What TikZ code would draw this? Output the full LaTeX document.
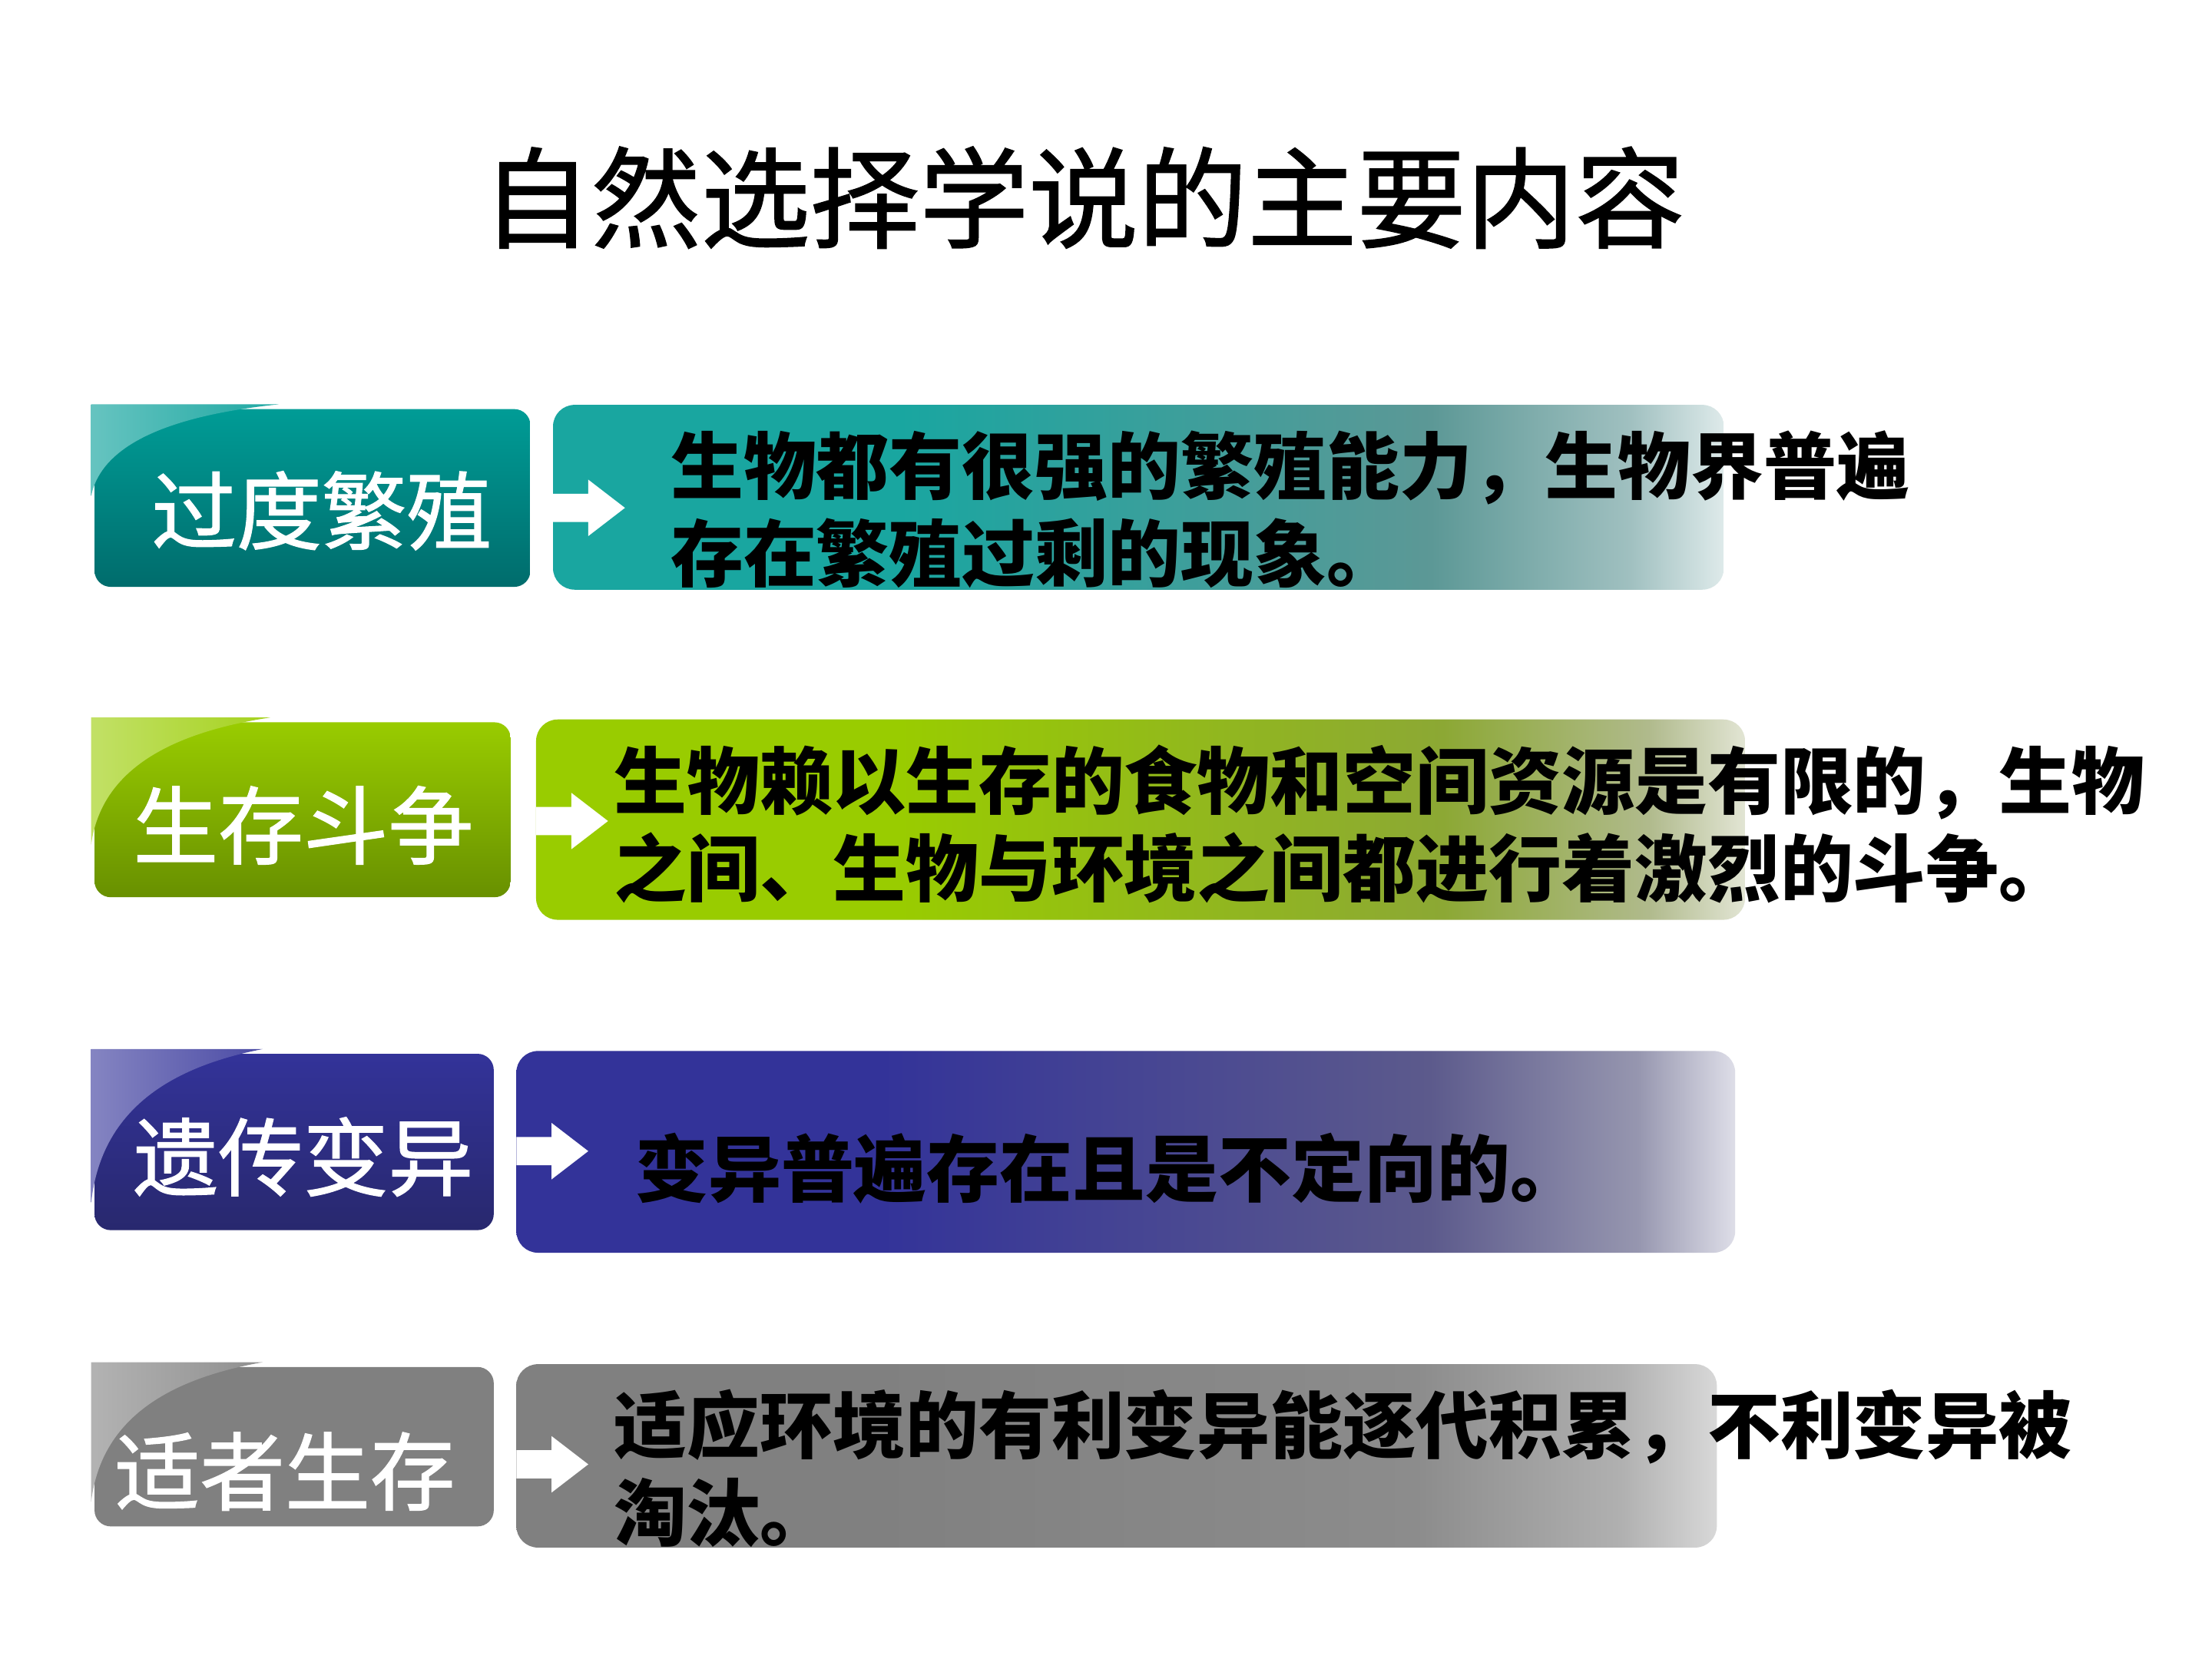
\documentclass[tikz,border=0pt]{standalone}
\usepackage{fontspec}
\newfontfamily\cjk{Noto Sans CJK SC}
\newfontfamily\cjkheavy{Noto Sans CJK SC}[FakeBold=1.2]
\usepackage{tikz}
\usetikzlibrary{positioning, calc}
\definecolor{tealtop}{RGB}{0, 156, 150}
\definecolor{tealbot}{RGB}{0, 108, 108}
\definecolor{greentop}{RGB}{153, 204, 0}
\definecolor{greenbot}{RGB}{104, 144, 0}
\definecolor{bluetop}{RGB}{51, 51, 153}
\definecolor{bluebot}{RGB}{40, 40, 110}
\definecolor{greybox}{RGB}{128, 128, 128}
\colorlet{barbase}{tealtop}
\colorlet{barmid}{tealtop}
\colorlet{barsoft}{tealtop}
\colorlet{barend}{white}
\pgfdeclarehorizontalshading[barbase,barmid,barsoft,barend]{fadebar}{100bp}{
  color(0bp)=(barbase); color(40bp)=(barbase); color(62.5bp)=(barmid);
  color(71bp)=(barsoft); color(75bp)=(barend); color(100bp)=(barend)}
\def\pxu{0.52259pt}

\begin{document}
\begin{tikzpicture}[x=0.52259pt, y=-0.52259pt,
    labelbox/.style={rounded corners=6pt, inner sep=0pt},
    bodybox/.style={rounded corners=8pt, inner sep=0pt, shading=fadebar},
    labeltext/.style={text=white, inner sep=0pt,
        font=\cjkheavy\fontsize{31.5}{36}\selectfont},
    bodytext/.style={anchor=west, align=left, inner sep=0pt,
        font=\cjk\bfseries\fontsize{27}{32.4}\selectfont}]
    \fill[white] (0,0) rectangle (1568,1176);
    \useasboundingbox (0,0) rectangle (1568,1176);

    \node (title) at (768,140)
        {\cjkheavy\fontsize{40.5}{48}\selectfont 自然选择学说的主要内容};

    % label boxes
    \node[labelbox, top color=tealtop, bottom color=tealbot,
        minimum width=309*\pxu, minimum height=126*\pxu] (lab1) at (221.5,353) {};
    \node[labelbox, top color=greentop, bottom color=greenbot,
        minimum width=295*\pxu, minimum height=124*\pxu] (lab2) at (214.5,574) {};
    \node[labelbox, top color=bluetop, bottom color=bluebot,
        minimum width=283*\pxu, minimum height=125*\pxu] (lab3) at (208.5,809.5) {};
    \node[labelbox, fill=greybox,
        minimum width=283*\pxu, minimum height=113*\pxu] (lab4) at (208.5,1025.5) {};

    % gloss on the top left corners
    \foreach \n/\w/\d/\c in {1/309/62/tealtop, 2/295/87/greentop,
                             3/283/106/bluetop, 4/283/96/greybox}
        \shade[left color=\c!60!white, right color=\c!88!white]
            ($(lab\n.north west)+(-2,-3)$) -- ++(0.43*\w,0)
            .. controls +(-0.25*\w,0.13*\d) and ($(lab\n.north west)+(0.024*\w-2,-0.59*\d+\d)$)
            .. ($(lab\n.north west)+(-2,\d)$) -- cycle;

    \node[labeltext] (lab1txt) at (228,362) {过度繁殖};
    \node[labeltext] (lab2txt) at (215,585) {生存斗争};
    \node[labeltext] (lab3txt) at (215,820) {遗传变异};
    \node[labeltext] (lab4txt) at (202,1043) {适者生存};

    % body boxes
    \colorlet{barbase}{tealtop!90!white}
    \colorlet{barmid}{rgb,255:red,92;green,152;blue,150}
    \colorlet{barsoft}{rgb,255:red,160;green,192;blue,192}
    \colorlet{barend}{rgb,255:red,222;green,234;blue,234}
    \node[bodybox, minimum width=830*\pxu, minimum height=131*\pxu]
        (body1) at (807,352.5) {};
    \colorlet{barbase}{greentop}
    \colorlet{barmid}{rgb,255:red,140;green,168;blue,52}
    \colorlet{barsoft}{rgb,255:red,176;green,186;blue,140}
    \colorlet{barend}{rgb,255:red,226;green,229;blue,212}
    \node[bodybox, minimum width=857*\pxu, minimum height=142*\pxu]
        (body2) at (808.5,581) {};
    \colorlet{barbase}{bluetop}
    \colorlet{barmid}{rgb,255:red,92;green,90;blue,140}
    \colorlet{barsoft}{rgb,255:red,150;green,150;blue,175}
    \colorlet{barend}{rgb,255:red,222;green,222;blue,232}
    \node[bodybox, minimum width=864*\pxu, minimum height=143*\pxu]
        (body3) at (798,816.5) {};
    \colorlet{barbase}{greybox}
    \colorlet{barmid}{rgb,255:red,140;green,140;blue,140}
    \colorlet{barsoft}{rgb,255:red,176;green,176;blue,176}
    \colorlet{barend}{rgb,255:red,216;green,216;blue,216}
    \node[bodybox, minimum width=851*\pxu, minimum height=130*\pxu]
        (body4) at (791.5,1032) {};

    % white block arrows
    \coordinate (arr1) at (392,360);
    \coordinate (arr2) at (380,582);
    \coordinate (arr3) at (366,816);
    \coordinate (arr4) at (366,1038);
    \foreach \p in {arr1,arr2,arr3,arr4}
        \fill[white] ($(\p)+(0,-10)$) -- ++(25,0) -- ++(0,-10) -- ++(26,20)
            -- ++(-26,20) -- ++(0,-10) -- ++(-25,0) -- cycle;

    \node[bodytext] (text1) at (475,361)
        {生物都有很强的繁殖能力，生物界普遍\\存在繁殖过剩的现象。};
    \node[bodytext] (text2) at (435,584)
        {生物赖以生存的食物和空间资源是有限的，生物\\之间、生物与环境之间都进行着激烈的斗争。};
    \node[bodytext] (text3) at (450,828)
        {变异普遍存在且是不定向的。};
    \node[bodytext] (text4) at (435,1041)
        {适应环境的有利变异能逐代积累，不利变异被\\淘汰。};
\end{tikzpicture}
\end{document}
